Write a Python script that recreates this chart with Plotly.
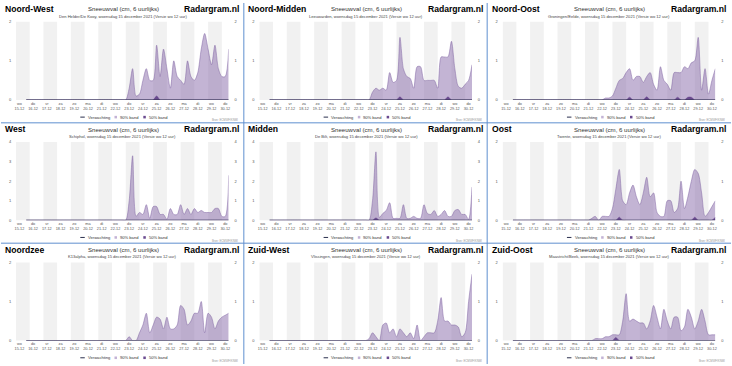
import plotly.graph_objects as go
import pandas as pd

# ---------------- data ----------------
regions = ["Noord-West", "Noord-Midden", "Noord-Oost",
           "West", "Midden", "Oost",
           "Noordzee", "Zuid-West", "Zuid-Oost"]
stations = ["Den Helder/De Kooy", "Leeuwarden", "Groningen/Eelde",
            "Schiphol", "De Bilt", "Twente",
            "K13alpha", "Vlissingen", "Maastricht/Beek"]
y_max = [2, 2, 2, 4, 4, 2, 2, 2, 2]

day_names = ["wo", "do", "vr", "za", "zo", "ma", "di", "wo",
             "do", "vr", "za", "zo", "ma", "di", "wo", "do"]
day_dates = ["15-12", "16-12", "17-12", "18-12", "19-12", "20-12", "21-12", "22-12",
             "23-12", "24-12", "25-12", "26-12", "27-12", "28-12", "29-12", "30-12"]

# 6-hourly values, 15-12 18:00 .. 30-12 12:00 (60 steps)
verwachting = [0, 0, 0, 0, 0, 0, 0, 0, 0, 0, 0, 0, 0, 0, 0, 0, 0, 0, 0, 0,
               0, 0, 0, 0, 0, 0, 0, 0, 0, 0, 0, 0, 0, 0, 0, 0, 0, 0, 0, 0,
               0, 0, 0, 0, 0, 0, 0, 0, 0, 0, 0, 0, 0, 0, 0, 0, 0, 0, 0, 0]

band90_nw = [0, 0, 0, 0, 0, 0, 0, 0, 0, 0, 0, 0, 0, 0, 0, 0, 0, 0, 0, 0, 0, 0, 0, 0, 0, 0, 0, 0, 0,
             0, 0.3, 0.8, 0.1, 0.15, 0.5, 0.8, 0.5, 0.5, 1.4, 0.6, 1.3, 0.8, 0.3, 1.0, 0.6,
             0.5, 0.4, 1.0, 0.6, 0.5, 0.7, 1.3, 1.7, 1.3, 0.9, 1.4, 0.8, 0.6, 0.6, 1.3]
band90_nm = [0, 0, 0, 0, 0, 0, 0, 0, 0, 0, 0, 0, 0, 0, 0, 0, 0, 0, 0, 0, 0, 0, 0, 0, 0, 0, 0, 0, 0,
             0, 0.2, 0.3, 0.25, 0.3, 0.25, 0.7, 0.45, 0.5, 1.6, 0.8, 0.6, 0.55, 0.3, 0.85, 0.85,
             0.5, 0.5, 0.5, 0.5, 0.3, 1.1, 1.1, 1.1, 1.5, 0.8, 0.35, 0.3, 0.4, 0.5, 0.9]
band90_no = [0, 0, 0, 0, 0, 0, 0, 0, 0, 0, 0, 0, 0, 0, 0, 0, 0, 0, 0, 0, 0, 0, 0, 0, 0, 0, 0, 0.05, 0.05,
             0.1, 0.3, 0.5, 0.55, 0.7, 0.8, 0.5, 0.6, 0.6, 0.45, 0.6, 0.7, 0.4, 0.25, 0.85, 0.5,
             0.4, 0.25, 0.7, 0.7, 0.7, 0.85, 0.8, 0.95, 1.0, 1.6, 0.25, 0.8, 0.15, 0.5, 0.8]
band90_w = [0, 0, 0, 0, 0, 0, 0, 0, 0, 0, 0, 0, 0, 0, 0, 0, 0, 0, 0, 0, 0, 0, 0, 0, 0, 0, 0, 0, 0,
            0, 1.0, 3.3, 0.2, 0.4, 0.3, 0.8, 0.1, 0.7, 0.7, 0.3, 0.3, 0.05, 0.6, 0.3, 0.3,
            0.8, 0.3, 0.6, 0.3, 0.6, 0.4, 0.5, 0.4, 0.4, 0.4, 0.6, 0.6, 0.2, 0.2, 2.3]
band90_m = [0, 0, 0, 0, 0, 0, 0, 0, 0, 0, 0, 0, 0, 0, 0, 0, 0, 0, 0, 0, 0, 0, 0, 0, 0, 0, 0, 0, 0,
            0, 1.0, 3.5, 0.15, 0.35, 0.5, 0.9, 0.1, 0.1, 0.1, 0.8, 0.1, 0.1, 0.2, 0.1, 0.1,
            0.8, 0.35, 0.3, 0.5, 0.2, 0.3, 0.5, 0.2, 0.2, 0.5, 0.55, 0.3, 0.3, 0.05, 1.7]
band90_o = [0, 0, 0, 0, 0, 0, 0, 0, 0, 0, 0, 0, 0, 0, 0, 0, 0, 0, 0, 0, 0, 0, 0, 0.05, 0.1, 0, 0.1, 0.1, 0.1,
            0.3, 0.8, 1.3, 0.5, 0.4, 0.7, 0.9, 0.6, 0.4, 0.7, 1.1, 0.6, 0.7, 0.2, 0.1, 0.1,
            0.5, 0.5, 0.2, 0.3, 1.0, 0.3, 0.6, 1.0, 1.3, 1.2, 0.7, 0.1, 0.2, 0.35, 0.5]
band90_nz = [0, 0, 0, 0, 0, 0, 0, 0, 0, 0, 0, 0, 0, 0, 0, 0, 0, 0, 0, 0, 0, 0, 0, 0, 0, 0, 0, 0, 0,
             0, 0.1, 0, 0, 0.2, 0.4, 0.7, 0.2, 0.4, 0.6, 0.55, 0.3, 0.6, 0.3, 0.3, 0.4,
             0.9, 0.8, 0.4, 0.5, 0.7, 0.7, 1.0, 0.2, 0.7, 0.6, 0.3, 0.5, 0.6, 0.65, 0.7]
band90_zw = [0, 0, 0, 0, 0, 0, 0, 0, 0, 0, 0, 0, 0, 0, 0, 0, 0, 0, 0, 0, 0, 0, 0, 0, 0, 0, 0, 0, 0,
             0.05, 0.2, 0.1, 0, 0.4, 0.45, 0.2, 0.3, 0.1, 0.3, 0.2, 0.1, 0.2, 0.05, 0.4, 0,
             0.1, 0.2, 0.2, 0.2, 0.5, 1.1, 0.5, 0.5, 0.4, 0.4, 0.35, 0.1, 0.2, 1.0, 1.7]
band90_zo = [0, 0, 0, 0, 0, 0, 0, 0, 0, 0, 0, 0, 0, 0, 0, 0, 0, 0, 0, 0, 0, 0, 0, 0, 0.05, 0.05, 0.05, 0.1, 0.1,
             0.15, 0.15, 0.15, 0.5, 1.2, 0.5, 0.55, 0.5, 0.45, 0.45, 0.3, 0.5, 0.9, 0.6, 0.3, 0.8,
             0.5, 0.3, 0.6, 0.6, 0.25, 0.35, 0.8, 0.6, 0.3, 0.5, 0.8, 0.5, 0.15, 0.15, 0.15]

band50_nw = [0, 0, 0, 0, 0, 0, 0, 0, 0, 0, 0, 0, 0, 0, 0, 0, 0, 0, 0, 0, 0, 0, 0, 0, 0, 0, 0, 0, 0,
             0, 0, 0, 0, 0, 0, 0, 0, 0, 0.1, 0, 0, 0, 0, 0, 0,
             0, 0, 0, 0, 0, 0, 0, 0, 0, 0, 0, 0, 0, 0, 0]
band50_nm = [0, 0, 0, 0, 0, 0, 0, 0, 0, 0, 0, 0, 0, 0, 0, 0, 0, 0, 0, 0, 0, 0, 0, 0, 0, 0, 0, 0, 0,
             0, 0, 0, 0, 0, 0, 0, 0, 0, 0.08, 0, 0, 0, 0, 0, 0,
             0, 0, 0, 0, 0, 0, 0, 0.08, 0, 0, 0, 0, 0, 0, 0]
band50_no = [0, 0, 0, 0, 0, 0, 0, 0, 0, 0, 0, 0, 0, 0, 0, 0, 0, 0, 0, 0, 0, 0, 0, 0, 0, 0, 0, 0, 0,
             0, 0, 0, 0, 0, 0.07, 0, 0, 0, 0, 0.08, 0, 0, 0, 0, 0,
             0, 0, 0, 0.07, 0, 0, 0.07, 0.07, 0, 0, 0, 0, 0, 0, 0]
band50_w = [0, 0, 0, 0, 0, 0, 0, 0, 0, 0, 0, 0, 0, 0, 0, 0, 0, 0, 0, 0, 0, 0, 0, 0, 0, 0, 0, 0, 0,
            0, 0, 0, 0, 0, 0, 0, 0, 0, 0, 0, 0, 0, 0, 0, 0,
            0, 0, 0, 0, 0, 0, 0, 0, 0, 0, 0, 0, 0, 0, 0]
band50_m = [0, 0, 0, 0, 0, 0, 0, 0, 0, 0, 0, 0, 0, 0, 0, 0, 0, 0, 0, 0, 0, 0, 0, 0, 0, 0, 0, 0, 0,
            0, 0, 0.12, 0, 0, 0, 0, 0, 0, 0, 0, 0, 0, 0, 0, 0,
            0, 0, 0, 0, 0, 0, 0, 0, 0, 0, 0, 0, 0, 0, 0]
band50_o = [0, 0, 0, 0, 0, 0, 0, 0, 0, 0, 0, 0, 0, 0, 0, 0, 0, 0, 0, 0, 0, 0, 0, 0, 0, 0, 0, 0, 0,
            0, 0, 0.08, 0, 0, 0, 0, 0, 0, 0, 0, 0, 0, 0, 0, 0,
            0, 0, 0, 0, 0, 0, 0, 0, 0.08, 0, 0, 0, 0, 0, 0.08]
band50_nz = [0, 0, 0, 0, 0, 0, 0, 0, 0, 0, 0, 0, 0, 0, 0, 0, 0, 0, 0, 0, 0, 0, 0, 0, 0, 0, 0, 0, 0,
             0, 0, 0, 0, 0, 0, 0, 0, 0, 0, 0, 0, 0, 0, 0, 0,
             0, 0, 0, 0, 0, 0, 0, 0, 0, 0, 0, 0, 0, 0, 0]
band50_zw = [0, 0, 0, 0, 0, 0, 0, 0, 0, 0, 0, 0, 0, 0, 0, 0, 0, 0, 0, 0, 0, 0, 0, 0, 0, 0, 0, 0, 0,
             0, 0, 0, 0, 0, 0, 0, 0, 0, 0, 0, 0, 0, 0, 0, 0,
             0, 0, 0, 0, 0, 0, 0, 0, 0, 0, 0, 0, 0, 0, 0]
band50_zo = [0, 0, 0, 0, 0, 0, 0, 0, 0, 0, 0, 0, 0, 0, 0, 0, 0, 0, 0, 0, 0, 0, 0, 0, 0, 0, 0, 0, 0,
             0, 0.08, 0, 0, 0, 0, 0, 0, 0, 0, 0, 0, 0, 0, 0, 0,
             0, 0, 0, 0, 0, 0, 0, 0, 0, 0, 0, 0, 0, 0, 0]

band90 = [band90_nw, band90_nm, band90_no, band90_w, band90_m, band90_o, band90_nz, band90_zw, band90_zo]
band50 = [band50_nw, band50_nm, band50_no, band50_w, band50_m, band50_o, band50_nz, band50_zw, band50_zo]

times = pd.date_range("2021-12-15 18:00", periods=60, freq="6h")
for s in band90 + band50:
    assert len(s) == 60, len(s)

# ---------------- figure ----------------
W, H = 732, 366
PW, PH = 244, 122
PL, PR, PT, PB = 15, 228.3, 19, 98.3
FONT = "Arial, Liberation Sans, sans-serif"

C90_FILL = "rgba(135,105,170,0.5)"
C90_LINE = "rgba(125,95,160,0.8)"
C50 = "#6a4a8f"
CLINE = "#2a2f4d"
GREY_BAND = "#f1f1f1"

def px(x):
    return x / W

def py(y):
    return 1 - y / H

fig = go.Figure()
annotations = []
shapes = []
layout_axes = {}

x_start = "2021-12-15 00:00"
x_end = "2021-12-30 12:00"
day_starts = pd.date_range("2021-12-15", periods=16, freq="D")
tickvals = [d + pd.Timedelta(hours=6) for d in day_starts]
ticktext = [f"{a}<br>{b}" for a, b in zip(day_names, day_dates)]

for k in range(9):
    r, c = divmod(k, 3)
    ox, oy = c * PW, r * PH
    xn = k + 1
    yl = 2 * k + 1
    yr = 2 * k + 2
    xa = "x" if xn == 1 else f"x{xn}"
    ya = "y" if yl == 1 else f"y{yl}"
    yb = f"y{yr}"

    fig.add_trace(go.Scatter(
        x=times, y=band90[k], mode="lines", line=dict(color=C90_LINE, width=0.6, shape="spline", smoothing=0.8),
        fill="tozeroy", fillcolor=C90_FILL, xaxis=xa, yaxis=ya, showlegend=False, name="90% band"))
    fig.add_trace(go.Scatter(
        x=times, y=band50[k], mode="lines", line=dict(color=C50, width=0.5, shape="spline", smoothing=0.8),
        fill="tozeroy", fillcolor=C50, xaxis=xa, yaxis=ya, showlegend=False, name="50% band"))
    fig.add_trace(go.Scatter(
        x=times, y=verwachting, mode="lines", line=dict(color=CLINE, width=1.1),
        xaxis=xa, yaxis=ya, showlegend=False, name="Verwachting"))
    fig.add_trace(go.Scatter(x=[], y=[], xaxis=xa, yaxis=yb, showlegend=False, hoverinfo="skip"))

    dom_x = [px(ox + PL), px(ox + PR)]
    dom_y = [py(oy + PB), py(oy + PT)]
    yt = list(range(0, y_max[k] + 1))

    layout_axes["xaxis" if xn == 1 else f"xaxis{xn}"] = dict(
        domain=dom_x, anchor=ya, range=[x_start, x_end], type="date",
        tickmode="array", tickvals=tickvals, ticktext=ticktext,
        tickfont=dict(size=3.8, color="#555", family=FONT),
        showgrid=False, zeroline=False, showline=False, ticks="", fixedrange=True)
    layout_axes["yaxis" if yl == 1 else f"yaxis{yl}"] = dict(
        domain=dom_y, anchor=xa, range=[0, y_max[k]], tickmode="array", tickvals=yt,
        tickfont=dict(size=4, color="#555", family=FONT), ticks="outside", ticklen=3,
        tickcolor="rgba(0,0,0,0)", showgrid=False, zeroline=False, showline=False)
    layout_axes[f"yaxis{yr}"] = dict(
        overlaying=ya, side="right", anchor=xa, range=[0, y_max[k]], tickmode="array", tickvals=yt,
        tickfont=dict(size=4, color="#555", family=FONT), ticks="outside", ticklen=4,
        tickcolor="rgba(0,0,0,0)", showgrid=False, zeroline=False, showline=False)

    # alternating day bands
    for d in range(0, 16, 2):
        x0 = day_starts[d]
        x1 = min(x0 + pd.Timedelta(days=1), pd.Timestamp(x_end))
        shapes.append(dict(type="rect", xref=xa, yref=f"{ya} domain", x0=x0, x1=x1, y0=0, y1=1,
                           fillcolor=GREY_BAND, line=dict(width=0), layer="below"))

    # texts
    annotations.append(dict(x=px(ox + 2), y=py(oy + 6), xref="paper", yref="paper", xanchor="left",
                            yanchor="middle", showarrow=False, text=f"<b>{regions[k]}</b>",
                            font=dict(size=8.6, color="#000", family=FONT)))
    annotations.append(dict(x=px(ox + 241), y=py(oy + 6), xref="paper", yref="paper", xanchor="right",
                            yanchor="middle", showarrow=False, text="<b>Radargram.nl</b>",
                            font=dict(size=8.6, color="#000", family=FONT)))
    annotations.append(dict(x=px(ox + 122.5), y=py(oy + 5.8), xref="paper", yref="paper", xanchor="center",
                            yanchor="middle", showarrow=False, text="Sneeuwval (cm, 6 uurlijks)",
                            font=dict(size=6.1, color="#333", family=FONT)))
    annotations.append(dict(x=px(ox + 122), y=py(oy + 13.2), xref="paper", yref="paper", xanchor="center",
                            yanchor="middle", showarrow=False,
                            text=f"{stations[k]}, woensdag 15 december 2021 (Versie wo 12 uur)",
                            font=dict(size=4.1, color="#444", family=FONT)))
    # legend
    ly = oy + 115.7
    shapes.append(dict(type="line", xref="paper", yref="paper", x0=px(ox + 79.5), x1=px(ox + 84),
                       y0=py(ly), y1=py(ly), line=dict(color=CLINE, width=1)))
    annotations.append(dict(x=px(ox + 85.3), y=py(ly), xref="paper", yref="paper", xanchor="left",
                            yanchor="middle", showarrow=False, text="Verwachting",
                            font=dict(size=4.1, color="#333", family=FONT)))
    shapes.append(dict(type="rect", xref="paper", yref="paper", x0=px(ox + 113.8), x1=px(ox + 116.3),
                       y0=py(ly + 1.3), y1=py(ly - 1.3), fillcolor="#c3b3d6", line=dict(width=0)))
    annotations.append(dict(x=px(ox + 117.3), y=py(ly), xref="paper", yref="paper", xanchor="left",
                            yanchor="middle", showarrow=False, text="90% band",
                            font=dict(size=4.1, color="#333", family=FONT)))
    shapes.append(dict(type="rect", xref="paper", yref="paper", x0=px(ox + 142.7), x1=px(ox + 145.2),
                       y0=py(ly + 1.3), y1=py(ly - 1.3), fillcolor=C50, line=dict(width=0)))
    annotations.append(dict(x=px(ox + 146.5), y=py(ly), xref="paper", yref="paper", xanchor="left",
                            yanchor="middle", showarrow=False, text="50% band",
                            font=dict(size=4.1, color="#333", family=FONT)))
    annotations.append(dict(x=px(ox + 240), y=py(oy + 119), xref="paper", yref="paper", xanchor="right",
                            yanchor="middle", showarrow=False, text="Bron: ECMWF/KNMI",
                            font=dict(size=2.8, color="#999", family=FONT)))

# panel separators
for xs in (243.5, 487.5):
    shapes.append(dict(type="line", xref="paper", yref="paper", x0=px(xs), x1=px(xs), y0=0, y1=1,
                       line=dict(color="#5f8fcf", width=1)))
for ys in (121.5, 243.5):
    shapes.append(dict(type="line", xref="paper", yref="paper", x0=0, x1=1, y0=py(ys), y1=py(ys),
                       line=dict(color="#5f8fcf", width=1)))

fig.update_layout(
    width=W, height=H, margin=dict(l=0, r=0, t=0, b=0),
    paper_bgcolor="white", plot_bgcolor="white",
    showlegend=False, annotations=annotations, shapes=shapes,
    font=dict(family=FONT), **layout_axes)

fig.write_html(
    "out.html",
    config={"displayModeBar": False},
    post_script="document.body.style.margin='0';document.body.style.padding='0';"
                "document.body.style.overflow='hidden';")
